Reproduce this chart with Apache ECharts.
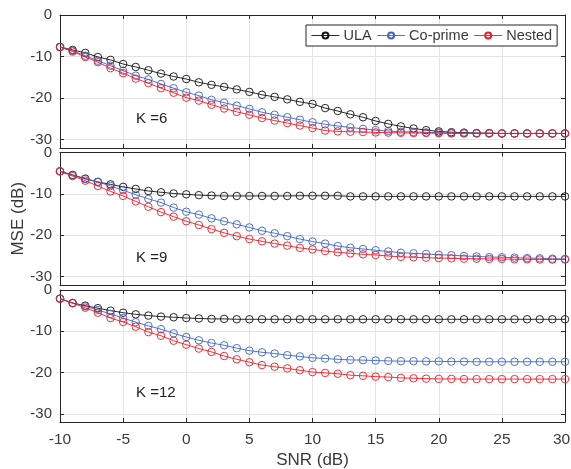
<!DOCTYPE html>
<html>
<head>
<meta charset="utf-8">
<script src="https://cdn.jsdelivr.net/npm/echarts@6/dist/echarts.min.js"></script>
<style>
  html, body { margin: 0; padding: 0; background: #fff; }
  #chart { width: 571px; height: 469px; }
</style>
</head>
<body>
<div id="chart"></div>
<script>
// SNR sweep (dB)
const snr = [-10, -9, -8, -7, -6, -5, -4, -3, -2, -1, 0, 1, 2, 3, 4, 5, 6, 7, 8, 9, 10,
             11, 12, 13, 14, 15, 16, 17, 18, 19, 20, 21, 22, 23, 24, 25, 26, 27, 28, 29, 30];

// K = 6
const ulaK6 = [-7.7, -8.4, -9.1, -10.1, -10.8, -11.8, -12.5, -13.3, -14.1, -14.8, -15.4, -16.2, -16.8, -17.3, -17.9, -18.5, -19.2, -19.7, -20.3, -20.9, -21.4,
               -22.4, -23.1, -23.9, -24.6, -25.5, -26.2, -26.8, -27.3, -27.7, -28.0, -28.2, -28.3, -28.4, -28.4, -28.5, -28.5, -28.5, -28.5, -28.5, -28.5];
const coprimeK6 = [-7.7, -8.6, -9.8, -11.0, -12.2, -13.4, -14.6, -15.5, -16.6, -17.6, -18.6, -19.4, -20.4, -21.1, -21.8, -22.6, -23.4, -24.0, -24.6, -25.2, -25.8,
                   -26.3, -26.7, -27.05, -27.4, -27.7, -27.9, -28.1, -28.15, -28.25, -28.3, -28.4, -28.4, -28.45, -28.5, -28.5, -28.5, -28.5, -28.5, -28.5, -28.5];
const nestedK6 = [-7.7, -8.8, -10.1, -11.35, -12.8, -14.0, -15.3, -16.4, -17.6, -18.7, -19.9, -20.6, -21.6, -22.5, -23.3, -24.0, -24.8, -25.4, -26.0, -26.6, -27.2,
                  -27.8, -28.0, -28.1, -28.15, -28.25, -28.3, -28.35, -28.4, -28.4, -28.45, -28.5, -28.5, -28.5, -28.5, -28.5, -28.5, -28.5, -28.5, -28.5, -28.5];

// K = 9
const ulaK9 = [-4.55, -5.4, -6.3, -7.1, -7.7, -8.3, -8.8, -9.3, -9.6, -9.9, -10.1, -10.3, -10.4, -10.5, -10.5, -10.5, -10.5, -10.5, -10.5, -10.45, -10.45,
               -10.45, -10.45, -10.6, -10.6, -10.6, -10.6, -10.6, -10.6, -10.6, -10.6, -10.6, -10.6, -10.6, -10.6, -10.6, -10.6, -10.6, -10.6, -10.6, -10.6];
const coprimeK9 = [-4.55, -5.5, -6.4, -7.1, -8.1, -9.1, -10.2, -11.2, -12.1, -13.3, -14.3, -15.0, -15.9, -16.6, -17.35, -18.1, -18.9, -19.5, -20.2, -20.9, -21.5,
                   -22.0, -22.6, -23.0, -23.3, -23.6, -23.9, -24.2, -24.35, -24.5, -24.7, -24.8, -25.0, -25.1, -25.25, -25.3, -25.4, -25.5, -25.55, -25.65, -25.7];
const nestedK9 = [-4.55, -5.7, -6.8, -8.1, -9.4, -10.5, -11.8, -13.1, -14.4, -15.5, -16.6, -17.5, -18.5, -19.4, -20.2, -20.9, -21.45, -22.0, -22.5, -23.05, -23.4,
                  -23.8, -24.1, -24.35, -24.6, -24.75, -25.0, -25.2, -25.3, -25.4, -25.5, -25.55, -25.65, -25.65, -25.7, -25.7, -25.8, -25.8, -25.85, -25.85, -25.85];

// K = 12
const ulaK12 = [-2.1, -3.15, -3.8, -4.4, -5.0, -5.5, -5.9, -6.2, -6.45, -6.6, -6.8, -6.9, -7.0, -7.0, -7.1, -7.1, -7.1, -7.1, -7.1, -7.1, -7.1,
                -7.1, -7.1, -7.1, -7.1, -7.1, -7.1, -7.1, -7.1, -7.1, -7.1, -7.1, -7.1, -7.1, -7.1, -7.1, -7.1, -7.1, -7.1, -7.1, -7.1];
const coprimeK12 = [-2.1, -3.15, -3.95, -4.85, -5.8, -6.8, -7.8, -8.7, -9.5, -10.5, -11.4, -12.2, -12.85, -13.4, -14.1, -14.7, -15.1, -15.4, -15.8, -16.1, -16.45,
                    -16.6, -16.8, -16.95, -17.0, -17.1, -17.2, -17.25, -17.25, -17.3, -17.3, -17.35, -17.35, -17.4, -17.4, -17.4, -17.4, -17.4, -17.4, -17.4, -17.4];
const nestedK12 = [-2.1, -3.2, -4.3, -5.5, -6.8, -7.75, -8.9, -10.2, -11.1, -12.3, -13.25, -14.2, -15.0, -16.0, -16.8, -17.5, -18.2, -18.6, -19.0, -19.45, -19.9,
                   -20.1, -20.3, -20.65, -20.8, -21.0, -21.1, -21.3, -21.4, -21.5, -21.55, -21.55, -21.6, -21.6, -21.6, -21.6, -21.6, -21.6, -21.6, -21.6, -21.6];

const seriesNames = ['ULA', 'Co-prime', 'Nested'];
const panelLabels = ['K =6', 'K =9', 'K =12'];
const yTicks = [0, -10, -20, -30];
const xTickLabels = ['-10', '-5', '0', '5', '10', '15', '20', '25', '30'];

const panels = [
  [ulaK6, coprimeK6, nestedK6],
  [ulaK9, coprimeK9, nestedK9],
  [ulaK12, coprimeK12, nestedK12]
];

const colors = ['#111111', '#3d63c6', '#ee1c25'];
const axisColor = '#262626';
const textColor = '#3a3a3a';
const gridColor = '#e3e3e3';
const font = '"Liberation Sans", Arial, Helvetica, sans-serif';

const grids = [
  { left: 60, width: 505, top: 15, height: 133, outerBoundsMode: 'none' },
  { left: 60, width: 505, top: 152.5, height: 132.5, outerBoundsMode: 'none' },
  { left: 60, width: 505, top: 290, height: 132, outerBoundsMode: 'none' }
];

const boxLine = { show: true, onZero: false, lineStyle: { color: axisColor, width: 1 } };
const inTick = { show: true, inside: true, length: 4, lineStyle: { color: axisColor } };

// The last x label is nudged left a little so it stays inside the canvas
function xLabel(v) {
  const txt = xTickLabels[xTickLabels.indexOf(String(v))];
  return txt === xTickLabels[xTickLabels.length - 1] ? '{edge|' + txt + '}' : txt;
}

const xAxes = [];
const yAxes = [];
grids.forEach((g, i) => {
  const last = i === grids.length - 1;
  xAxes.push({
    type: 'value', gridIndex: i, min: -10, max: 30, interval: 5, position: 'bottom',
    axisLine: boxLine,
    axisTick: inTick,
    axisLabel: {
      show: last, color: textColor, fontSize: 15.5, fontFamily: font, margin: 10,
      formatter: xLabel,
      rich: { edge: { color: textColor, fontSize: 15.5, fontFamily: font, padding: [0, 7, 0, 0] } }
    },
    splitLine: { show: true, lineStyle: { color: gridColor, width: 1 } },
    name: last ? 'SNR (dB)' : '',
    nameLocation: 'middle', nameGap: 30, nameMoveOverlap: false,
    nameTextStyle: { color: textColor, fontSize: 17, fontFamily: font }
  });
  xAxes.push({
    type: 'value', gridIndex: i, min: -10, max: 30, interval: 5, position: 'top',
    axisLine: boxLine,
    axisTick: inTick,
    axisLabel: { show: false }, splitLine: { show: false }
  });
  yAxes.push({
    type: 'value', gridIndex: i, min: -32, max: 0, position: 'left',
    axisLine: boxLine,
    axisTick: Object.assign({ customValues: yTicks }, inTick),
    axisLabel: { color: textColor, fontSize: 15, fontFamily: font, margin: 8, customValues: yTicks },
    splitLine: { show: true, lineStyle: { color: gridColor, width: 1 } },
    name: i === 1 ? 'MSE (dB)' : '',
    nameLocation: 'middle', nameGap: 33, nameMoveOverlap: false,
    nameTextStyle: { color: textColor, fontSize: 17, fontFamily: font }
  });
  yAxes.push({
    type: 'value', gridIndex: i, min: -32, max: 0, position: 'right',
    axisLine: boxLine,
    axisTick: Object.assign({ customValues: yTicks }, inTick),
    axisLabel: { show: false, customValues: yTicks }, splitLine: { show: false }
  });
});

// Open circle markers: transparent fill so the connecting line shows through
const series = [];
panels.forEach((panel, p) => {
  panel.forEach((vals, s) => {
    series.push({
      name: seriesNames[s],
      type: 'line',
      xAxisIndex: p * 2,
      yAxisIndex: p * 2,
      data: snr.map((x, k) => [x, vals[k]]),
      symbol: 'circle',
      symbolSize: 7.5,
      showAllSymbol: true,
      color: colors[s],
      lineStyle: { width: 0.9, color: colors[s] },
      itemStyle: { color: 'rgba(255,255,255,0)', borderColor: colors[s], borderWidth: 0.9 },
      emphasis: { disabled: true },
      animation: false,
      z: 2 + s
    });
  });
});

const chart = echarts.init(document.getElementById('chart'), null, { renderer: 'canvas' });
chart.setOption({
  animation: false,
  backgroundColor: '#ffffff',
  textStyle: { fontFamily: font },
  grid: grids,
  xAxis: xAxes,
  yAxis: yAxes,
  legend: {
    data: seriesNames,
    left: 306, top: 25,
    padding: [3, 5, 3, 5],
    itemGap: 5, itemWidth: 28, itemHeight: 7.5,
    backgroundColor: '#ffffff',
    borderColor: axisColor, borderWidth: 1, borderRadius: 0,
    lineStyle: { width: 0.9 },
    textStyle: { color: textColor, fontSize: 14.5, fontFamily: font, padding: [0, 0, 0, -1] }
  },
  graphic: panelLabels.map((t, i) => ({
    type: 'text',
    left: 136,
    top: [111, 250, 385][i],
    style: { text: t, fill: '#222', fontSize: 15, fontFamily: font }
  })),
  series: series
});
</script>
</body>
</html>
